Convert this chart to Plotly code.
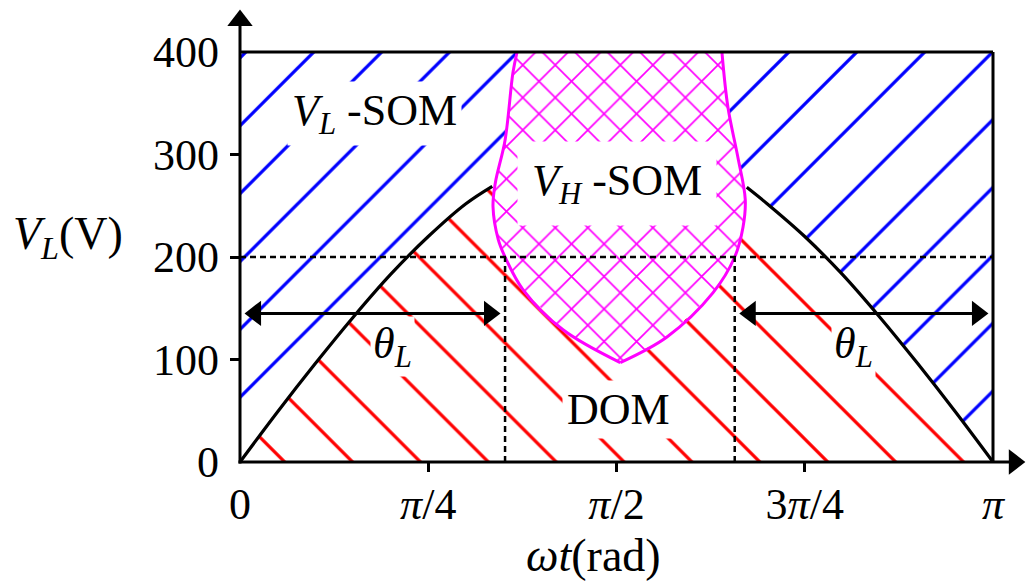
import math
import plotly.graph_objects as go

PI = math.pi

# ---- data (x in units of pi, values in volts) ----
curve_left_x = [0, 0.05, 0.10, 0.15, 0.20, 0.25, 0.30, 0.335]
curve_left_v = [0, 49, 96, 141, 183, 220, 252, 269]
curve_right_x = [0.673, 0.70, 0.75, 0.80, 0.85, 0.90, 0.95, 1.0]
curve_right_v = [268, 252, 220, 183, 141, 96, 49, 0]

vh_left_x = [0.368, 0.3625, 0.352, 0.339, 0.336, 0.343, 0.352, 0.376, 0.429, 0.505]
vh_left_v = [400, 380, 314, 272, 249, 217, 200, 168, 129, 97]
vh_right_x = [0.505, 0.567, 0.628, 0.657, 0.668, 0.671, 0.661, 0.648, 0.640]
vh_right_v = [97, 122, 165, 200, 229, 256, 298, 346, 400]

v_max = 400
v_ref = 200
theta_left_end = 0.352
theta_right_start = 0.657
theta_arrow_v = 145
x_axis_tip = 1.049      # units of pi
y_axis_tip = 446        # volts

x_ticks = [0, 0.25, 0.5, 0.75, 1.0]
x_ticklabels = ["0", "<i>π</i>/4", "<i>π</i>/2", "3<i>π</i>/4", "<i>π</i>"]
y_ticks = [0, 100, 200, 300, 400]

# ---- geometry helpers (pixel scale of the drawing) ----
PX_PER_PI = 753.0
PX_PER_V = 410.0 / 400.0
ML, MB = 230, 111
W, H = 1033, 583
X_LO = -(240 - ML) / PX_PER_PI
X_HI = (W - 240) / PX_PER_PI
Y_LO = -(H - MB - 462) / PX_PER_V
Y_HI = 462 / PX_PER_V


def r(xs):
    return [x * PI for x in xs]


def dx(px):          # pixel distance -> x data (radians)
    return px / PX_PER_PI * PI


def dy(px):          # pixel distance -> volts
    return px / PX_PER_V


FONT = "Liberation Serif"
BLUE = "#0000ff"
RED = "#ff0000"
MAG = "#ff00ff"

fig = go.Figure()

# blue region (V_L-SOM) - full box, overdrawn below
fig.add_trace(go.Scatter(
    x=r([0, 1, 1, 0, 0]), y=[0, 0, v_max, v_max, 0],
    mode="lines", line=dict(width=0), fill="toself", fillcolor="white",
    fillpattern=dict(shape="/", size=48, solidity=0.068, fgcolor=BLUE, fgopacity=1,
                     bgcolor="white"),
    hoverinfo="skip", showlegend=False))

# red region (DOM) under curve
fig.add_trace(go.Scatter(
    x=r(curve_left_x + curve_right_x), y=curve_left_v + curve_right_v,
    mode="lines", line=dict(width=0), fill="toself", fillcolor="white",
    fillpattern=dict(shape="\\", size=48, solidity=0.068, fgcolor=RED, fgopacity=1,
                     bgcolor="white"),
    hoverinfo="skip", showlegend=False))

# black sine curve
for xs, vs in ((curve_left_x, curve_left_v), (curve_right_x, curve_right_v)):
    fig.add_trace(go.Scatter(
        x=r(xs), y=vs, mode="lines", line=dict(color="black", width=3.2, shape="spline"),
        hoverinfo="skip", showlegend=False))

# magenta region (V_H-SOM)
fig.add_trace(go.Scatter(
    x=r(vh_left_x + vh_right_x[1:]), y=vh_left_v + vh_right_v[1:],
    mode="lines", line=dict(width=0), fill="toself", fillcolor="white",
    fillpattern=dict(shape="x", size=23, solidity=0.14, fgcolor=MAG, fgopacity=1,
                     bgcolor="white"),
    hoverinfo="skip", showlegend=False))
for xs, vs in ((vh_left_x, vh_left_v), (vh_right_x, vh_right_v)):
    fig.add_trace(go.Scatter(
        x=r(xs), y=vs, mode="lines", line=dict(color=MAG, width=3, shape="spline"),
        hoverinfo="skip", showlegend=False))

# arrowheads as triangle markers (tip offset = sqrt(2) * size / 2)
HEAD = 22
OFF = math.sqrt(2) * HEAD / 2
xl, xr = theta_left_end * PI, theta_right_start * PI
heads = [
    (x_axis_tip * PI - dx(OFF), 0, "triangle-right"),
    (0, y_axis_tip - dy(OFF), "triangle-up"),
    (dx(OFF), theta_arrow_v, "triangle-left"),
    (xl - dx(OFF), theta_arrow_v, "triangle-right"),
    (xr + dx(OFF), theta_arrow_v, "triangle-left"),
    (PI - dx(OFF), theta_arrow_v, "triangle-right"),
]
fig.add_trace(go.Scatter(
    x=[h[0] for h in heads], y=[h[1] for h in heads], mode="markers",
    marker=dict(symbol=[h[2] for h in heads], size=HEAD, color="black", line=dict(width=0)),
    cliponaxis=False, hoverinfo="skip", showlegend=False))

# shapes: axes, box border, arrow shafts and dashed reference lines
blk = dict(color="black", width=3)
dsh = dict(color="black", width=2.5, dash="6px,4px")
shapes = [
    dict(type="line", x0=-dx(1.5), x1=x_axis_tip * PI - dx(OFF), y0=0, y1=0, line=blk),
    dict(type="line", x0=0, x1=0, y0=-dy(1.5), y1=y_axis_tip - dy(OFF), line=blk),
    dict(type="line", x0=0, x1=PI, y0=v_max, y1=v_max, line=blk),
    dict(type="line", x0=PI, x1=PI, y0=0, y1=v_max, line=blk),
    dict(type="line", x0=dx(OFF), x1=xl - dx(OFF), y0=theta_arrow_v, y1=theta_arrow_v, line=blk),
    dict(type="line", x0=xr + dx(OFF), x1=PI - dx(OFF), y0=theta_arrow_v, y1=theta_arrow_v, line=blk),
    dict(type="line", x0=0, x1=PI, y0=v_ref, y1=v_ref, line=dsh),
    dict(type="line", x0=xl, x1=xl, y0=0, y1=v_ref, line=dsh),
    dict(type="line", x0=xr, x1=xr, y0=0, y1=v_ref, line=dsh),
]
for s in shapes:
    s.update(xref="x", yref="y", layer="above")

ann = []


def label(text, x, y, pad=0, bg=None, size=44, xref="x", yref="y"):
    d = dict(text=text, x=x, y=y, xref=xref, yref=yref, showarrow=False,
             font=dict(family=FONT, size=size, color="black"),
             xanchor="center", yanchor="middle")
    if bg:
        d.update(bgcolor=bg, borderpad=pad)
    return d


ann.append(label("<i>V</i><sub><i>L</i></sub> -SOM", 0.179 * PI, 340, pad=4, bg="white"))
ann.append(label("<i>V</i><sub><i>H</i></sub> -SOM", 0.500 * PI, 272, pad=14, bg="white"))
ann.append(label("DOM", 0.502 * PI, 51, pad=4, bg="white"))
ann.append(label("<i>θ</i><sub><i>L</i></sub>", 0.202 * PI, 113, pad=2, bg="white"))
ann.append(label("<i>θ</i><sub><i>L</i></sub>", 0.815 * PI, 113, pad=2, bg="white"))
# axis titles (paper coordinates)
pw, ph = W - ML, H - MB
ann.append(label("<i>V</i><sub><i>L</i></sub>(V)", (68 - ML) / pw, (H - MB - 237) / ph,
                 size=46, xref="paper", yref="paper"))
ann.append(label("<i>ωt</i>(rad)", (593 - ML) / pw, (H - MB - 555) / ph,
                 size=46, xref="paper", yref="paper"))

fig.update_layout(
    width=W, height=H,
    margin=dict(l=ML, r=0, t=0, b=MB, pad=0),
    paper_bgcolor="white", plot_bgcolor="white",
    shapes=shapes, annotations=ann, showlegend=False,
    xaxis=dict(range=[X_LO * PI, X_HI * PI], showgrid=False, zeroline=False, showline=False,
               tickmode="array", tickvals=r(x_ticks), ticktext=x_ticklabels, ticks="",
               ticklabelstandoff=2,
               tickfont=dict(family=FONT, size=44, color="black"),
               minor=dict(tickmode="array", tickvals=r([0.25, 0.5, 0.75]), ticks="inside",
                          ticklen=10, tickwidth=3, tickcolor="black", showgrid=False)),
    yaxis=dict(range=[Y_LO, Y_HI], showgrid=False, zeroline=False, showline=False,
               tickmode="array", tickvals=y_ticks, ticks="",
               ticklabelstandoff=10,
               tickfont=dict(family=FONT, size=44, color="black"),
               minor=dict(tickmode="array", tickvals=[100, 200, 300], ticks="inside",
                          ticklen=11, tickwidth=3, tickcolor="black", showgrid=False)),
)

fig.write_html("out.html", config={"displayModeBar": False},
               post_script="document.body.style.margin='0';")
